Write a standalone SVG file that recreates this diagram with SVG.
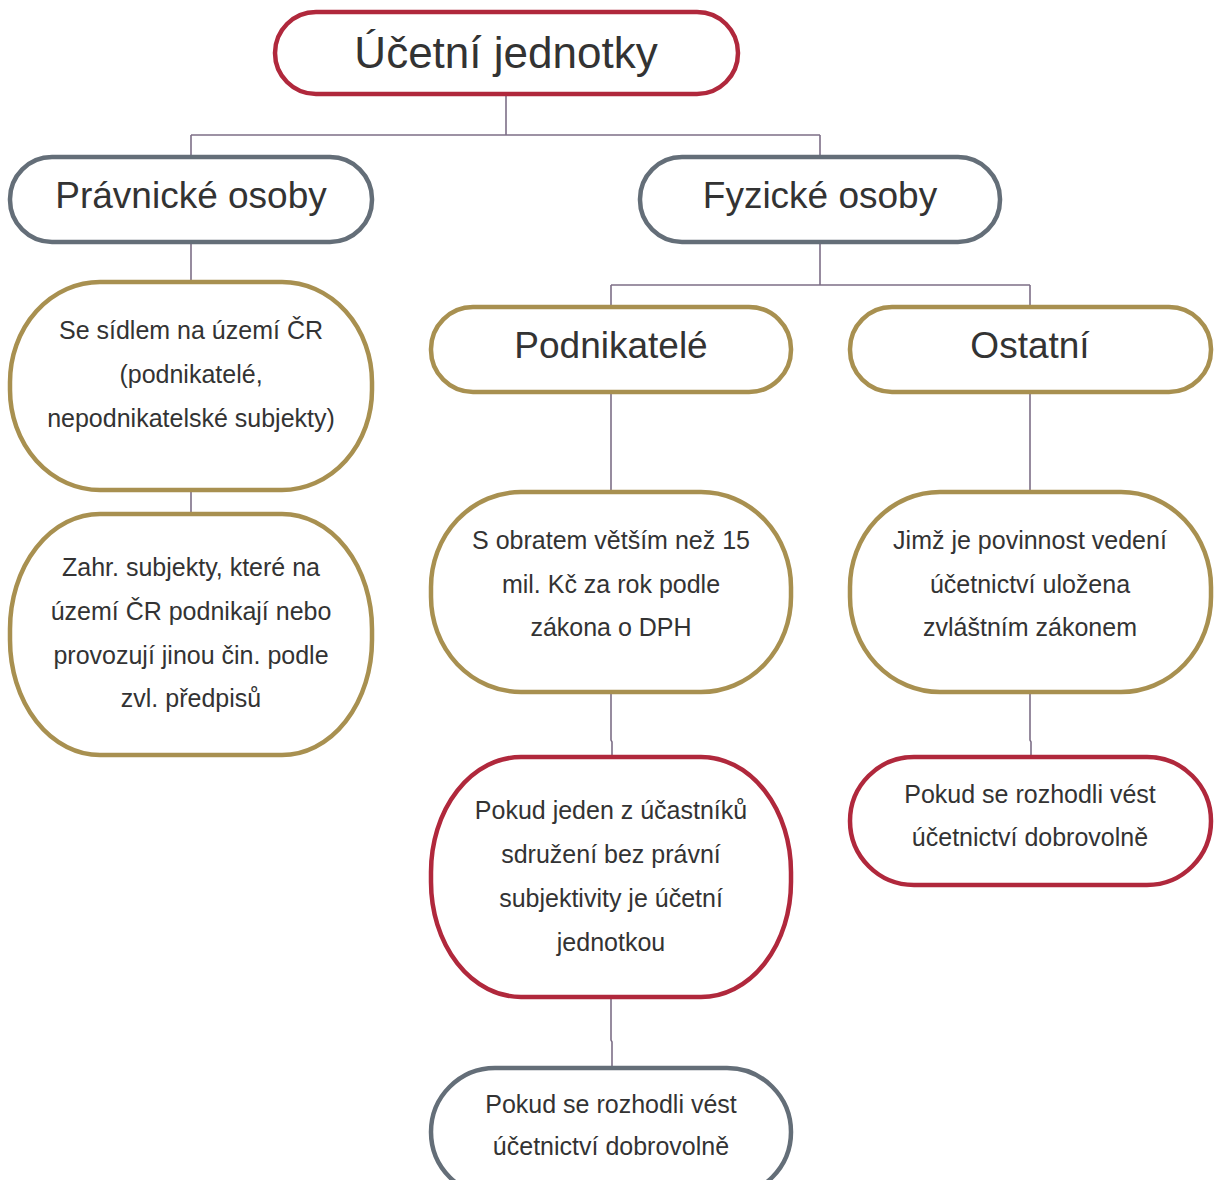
<svg xmlns="http://www.w3.org/2000/svg" width="1220" height="1180" viewBox="0 0 1220 1180">
<style>
.n{fill:#fff;stroke-width:4.5}
.r{stroke:#b0283c}
.g{stroke:#646e78}
.y{stroke:#a89050}
text{font-family:"Liberation Sans",Arial,sans-serif;fill:#333;text-anchor:middle}
.t1{font-size:44px}
.t2{font-size:37px}
.t3{font-size:25px}
.c{fill:none;stroke:#7d6f87;stroke-width:1.6}
</style>
<rect width="1220" height="1180" fill="#fff"/>
<g id="connectors">
<path class="c" d="M506 94V135M191 135H820M191 135V157M820 135V157"/>
<path class="c" d="M191 242V282M191 490V514"/>
<path class="c" d="M820 242V285M611 285H1030M611 285V307M1030 285V307"/>
<path class="c" d="M611 392V492M611 692V740L612 742V757M611 997V1040L612 1042V1068"/>
<path class="c" d="M1030 392V492M1030 692V740L1031 742V757"/>
</g>
<g id="n1"><rect class="n r" x="275" y="12" width="463" height="82" rx="41"/><text class="t1" x="506" y="68">Účetní jednotky</text></g>
<g id="n2"><rect class="n g" x="10" y="157" width="362" height="85" rx="42"/><text class="t2" x="191" y="208">Právnické osoby</text></g>
<g id="n3"><rect class="n g" x="640" y="157" width="360" height="85" rx="42"/><text class="t2" x="820" y="208">Fyzické osoby</text></g>
<g id="n4"><rect class="n y" x="10" y="282" width="362" height="208" rx="90" ry="100"/><text class="t3" x="191" y="339">Se sídlem na území ČR</text><text class="t3" x="191" y="383">(podnikatelé,</text><text class="t3" x="191" y="427">nepodnikatelské subjekty)</text></g>
<g id="n5"><rect class="n y" x="10" y="514" width="362" height="241" rx="90" ry="115"/><text class="t3" x="191" y="576">Zahr. subjekty, které na</text><text class="t3" x="191" y="620">území ČR podnikají nebo</text><text class="t3" x="191" y="664">provozují jinou čin. podle</text><text class="t3" x="191" y="707">zvl. předpisů</text></g>
<g id="n6"><rect class="n y" x="431" y="307" width="360" height="85" rx="42"/><text class="t2" x="611" y="358">Podnikatelé</text></g>
<g id="n7"><rect class="n y" x="850" y="307" width="361" height="85" rx="42"/><text class="t2" x="1030" y="358">Ostatní</text></g>
<g id="n8"><rect class="n y" x="431" y="492" width="360" height="200" rx="90" ry="95"/><text class="t3" x="611" y="549">S obratem větším než 15</text><text class="t3" x="611" y="593">mil. Kč za rok podle</text><text class="t3" x="611" y="636">zákona o DPH</text></g>
<g id="n9"><rect class="n y" x="850" y="492" width="361" height="200" rx="90" ry="95"/><text class="t3" x="1030" y="549">Jimž je povinnost vedení</text><text class="t3" x="1030" y="593">účetnictví uložena</text><text class="t3" x="1030" y="636">zvláštním zákonem</text></g>
<g id="n10"><rect class="n r" x="431" y="757" width="360" height="240" rx="90" ry="115"/><text class="t3" x="611" y="819">Pokud jeden z účastníků</text><text class="t3" x="611" y="863">sdružení bez právní</text><text class="t3" x="611" y="907">subjektivity je účetní</text><text class="t3" x="611" y="951">jednotkou</text></g>
<g id="n11"><rect class="n r" x="850" y="757" width="361" height="128" rx="64"/><text class="t3" x="1030" y="803">Pokud se rozhodli vést</text><text class="t3" x="1030" y="846">účetnictví dobrovolně</text></g>
<g id="n12"><rect class="n g" x="431" y="1068" width="360" height="128" rx="64"/><text class="t3" x="611" y="1113">Pokud se rozhodli vést</text><text class="t3" x="611" y="1155">účetnictví dobrovolně</text></g>
</svg>
